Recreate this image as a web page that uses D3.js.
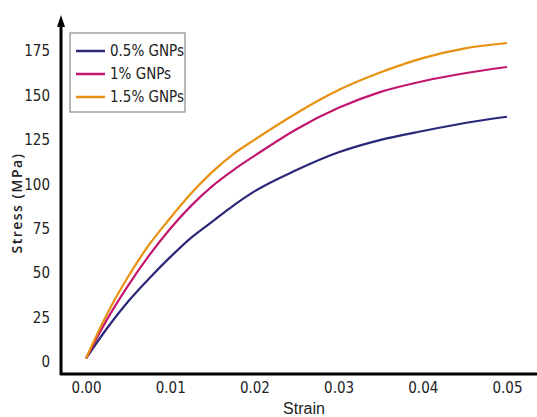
<!DOCTYPE html>
<html>
<head>
<meta charset="utf-8">
<script src="https://cdn.jsdelivr.net/npm/d3@7"></script>
<style>
    body { margin: 0; background: #fff; }
    .tick text { font-family: "Liberation Sans Narrow", "DejaVu Sans Condensed", sans-serif; font-size: 15px; fill: #222; }
</style>
</head>
<body>
<div class="container"></div>
<script>
var strain = [0, 0.0025, 0.005, 0.0075, 0.01, 0.0125, 0.015, 0.0175, 0.02, 0.025, 0.03, 0.035, 0.04, 0.045, 0.05];
var gnp05 = [2, 19, 34, 47, 59, 70, 79, 88, 96, 108, 118, 125, 130, 134.5, 138];
var gnp10 = [2, 24, 43, 60, 75, 88, 99, 108, 116, 131, 143, 152, 158, 162.5, 166];
var gnp15 = [2, 27, 48, 66, 81, 95, 107, 117, 125, 140, 153, 163, 171, 176.5, 179.5];
var seriesNames = ['0.5% GNPs', '1% GNPs', '1.5% GNPs'];
var seriesColors = ['#2a2878', '#c2176f', '#e8900f'];
var xTicks = [0, 0.01, 0.02, 0.03, 0.04, 0.05];
var yTicks = [0, 25, 50, 75, 100, 125, 150, 175];

var translate = function (x, y) {
    return 'translate(' + x + ', ' + y + ')';
};

var visualize = function () {
    const WIDTH = 537;
    const HEIGHT = 417;
    const AXIS_X = 61;
    const AXIS_Y = 374;

    var xScale = d3.scaleLinear().domain([0, 0.05]).range([86, 507]);
    var yScale = d3.scaleLinear().domain([0, 175]).range([362, 51]);

    var svg = d3.select('.container')
        .append('svg')
        .attr('width', WIDTH)
        .attr('height', HEIGHT);

    var xAxis = d3.axisBottom(xScale).tickValues(xTicks)
        .tickFormat(d3.format('.2f')).tickSize(0).tickPadding(8);
    var yAxis = d3.axisLeft(yScale).tickValues(yTicks)
        .tickFormat(d3.format('d')).tickSize(0).tickPadding(11);

    svg.append('g').attr('transform', translate(0, AXIS_Y)).call(xAxis)
        .call(function (g) { g.select('.domain').remove(); });
    svg.append('g').attr('transform', translate(AXIS_X, 0)).call(yAxis)
        .call(function (g) { g.select('.domain').remove(); });

    // axis lines, y has an arrow on top
    svg.append('line')
        .attr('x1', AXIS_X - 1).attr('x2', WIDTH)
        .attr('y1', AXIS_Y).attr('y2', AXIS_Y)
        .attr('stroke', '#000').attr('stroke-width', 3);
    svg.append('line')
        .attr('x1', AXIS_X).attr('x2', AXIS_X)
        .attr('y1', AXIS_Y + 1).attr('y2', 24)
        .attr('stroke', '#000').attr('stroke-width', 3);
    svg.append('path')
        .attr('d', 'M' + (AXIS_X - 4) + ',27 L' + AXIS_X + ',15 L' + (AXIS_X + 4) + ',27 Z')
        .attr('fill', '#000');

    var series = [gnp05, gnp10, gnp15];
    var line = d3.line()
        .x(function (d, i) { return xScale(strain[i]); })
        .y(function (d) { return yScale(d); })
        .curve(d3.curveMonotoneX);

    svg.append('g').selectAll('path')
        .data(series)
        .enter()
        .append('path')
        .attr('d', line)
        .attr('fill', 'none')
        .attr('stroke', function (d, i) { return seriesColors[i]; })
        .attr('stroke-width', 2.2);

    // legend
    var legend = svg.append('g').attr('transform', translate(70, 33));
    legend.append('rect')
        .attr('width', 115).attr('height', 79)
        .attr('fill', '#fff').attr('stroke', '#8a8a8a').attr('stroke-width', 1.2);
    var rows = legend.selectAll('.row')
        .data(seriesNames)
        .enter()
        .append('g')
        .attr('transform', function (d, i) { return translate(0, 18 + i * 23); });
    rows.append('line')
        .attr('x1', 6).attr('x2', 35)
        .attr('stroke', function (d, i) { return seriesColors[i]; })
        .attr('stroke-width', 2.5);
    rows.append('text')
        .attr('x', 40).attr('dy', '0.35em')
        .style('font-family', '"Liberation Sans Narrow", "DejaVu Sans Condensed", sans-serif')
        .style('font-size', '15px')
        .attr('fill', '#222')
        .text(function (d) { return d; });

    // axis titles
    svg.append('text')
        .attr('transform', translate(22, 203) + ' rotate(-90)')
        .attr('text-anchor', 'middle')
        .style('font-family', '"Open Sans", sans-serif')
        .style('font-size', '14px')
        .style('font-weight', 600)
        .style('letter-spacing', '1.5px')
        .attr('fill', '#222')
        .text('Stress (MPa)');
    svg.append('text')
        .attr('x', 304).attr('y', 414)
        .attr('text-anchor', 'middle')
        .style('font-family', '"Liberation Sans Narrow", sans-serif')
        .style('font-size', '16px')
        .attr('fill', '#222')
        .text('Strain');
};

window.onload = visualize;
</script>
</body>
</html>
